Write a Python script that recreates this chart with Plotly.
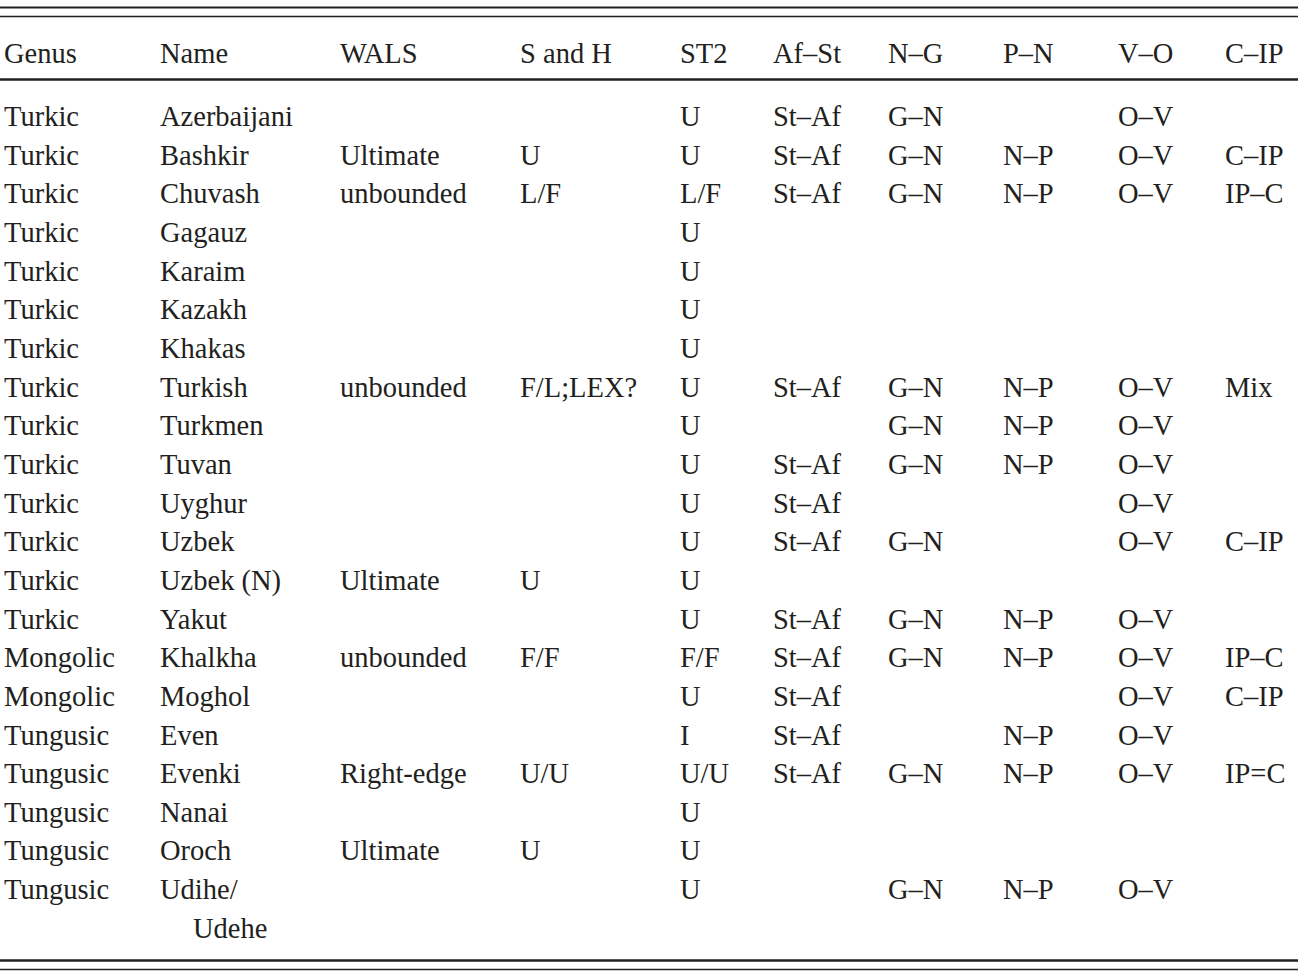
import plotly.graph_objects as go

# ---- data ----
headers = ["Genus", "Name", "WALS", "S and H", "ST2", "Af–St", "N–G", "P–N", "V–O", "C–IP"]

genus = ["Turkic"] * 14 + ["Mongolic"] * 2 + ["Tungusic"] * 5
name = ["Azerbaijani", "Bashkir", "Chuvash", "Gagauz", "Karaim", "Kazakh", "Khakas",
        "Turkish", "Turkmen", "Tuvan", "Uyghur", "Uzbek", "Uzbek (N)", "Yakut",
        "Khalkha", "Moghol", "Even", "Evenki", "Nanai", "Oroch", "Udihe/Udehe"]
wals = ["", "Ultimate", "unbounded", "", "", "", "", "unbounded", "", "", "", "", "Ultimate", "",
        "unbounded", "", "", "Right-edge", "", "Ultimate", ""]
s_and_h = ["", "U", "L/F", "", "", "", "", "F/L;LEX?", "", "", "", "", "U", "",
           "F/F", "", "", "U/U", "", "U", ""]
st2 = ["U", "U", "L/F", "U", "U", "U", "U", "U", "U", "U", "U", "U", "U", "U",
       "F/F", "U", "I", "U/U", "U", "U", "U"]
af_st = ["St–Af", "St–Af", "St–Af", "", "", "", "", "St–Af", "", "St–Af", "St–Af", "St–Af", "", "St–Af",
         "St–Af", "St–Af", "St–Af", "St–Af", "", "", ""]
n_g = ["G–N", "G–N", "G–N", "", "", "", "", "G–N", "G–N", "G–N", "", "G–N", "", "G–N",
       "G–N", "", "", "G–N", "", "", "G–N"]
p_n = ["", "N–P", "N–P", "", "", "", "", "N–P", "N–P", "N–P", "", "", "", "N–P",
       "N–P", "", "N–P", "N–P", "", "", "N–P"]
v_o = ["O–V", "O–V", "O–V", "", "", "", "", "O–V", "O–V", "O–V", "O–V", "O–V", "", "O–V",
       "O–V", "O–V", "O–V", "O–V", "", "", "O–V"]
c_ip = ["", "C–IP", "IP–C", "", "", "", "", "Mix", "", "", "", "C–IP", "", "",
        "IP–C", "C–IP", "", "IP=C", "", "", ""]

columns = [genus, name, wals, s_and_h, st2, af_st, n_g, p_n, v_o, c_ip]

# ---- layout constants ----
W, H = 1305, 976
col_x = [4, 160, 340, 520, 680, 773, 888, 1003, 1118, 1225]
header_y = 55.5
first_row_y = 119
row_step = 38.65
wrap_indent = 33
FONT = dict(family="Liberation Serif, Times New Roman, serif", size=28.5, color="#231f20")

fig = go.Figure()

# header
fig.add_trace(go.Scatter(x=col_x, y=[header_y] * len(headers), text=headers, mode="text",
                         textposition="middle right", textfont=FONT, hoverinfo="skip",
                         showlegend=False))

# body cells
for ci, col in enumerate(columns):
    xs, ys, ts = [], [], []
    for ri, val in enumerate(col):
        if not val:
            continue
        y = first_row_y + ri * row_step
        if ci == 1 and val == "Udihe/Udehe":
            xs += [col_x[ci], col_x[ci] + wrap_indent]
            ys += [y, y + row_step]
            ts += ["Udihe/", "Udehe"]
        else:
            xs.append(col_x[ci])
            ys.append(y)
            ts.append(val)
    fig.add_trace(go.Scatter(x=xs, y=ys, text=ts, mode="text", textposition="middle right",
                             textfont=FONT, hoverinfo="skip", showlegend=False))

# rules
rule_x0, rule_x1 = 0, 1298
for y, w in [(7.5, 2), (16.5, 1.5), (79.5, 2.5), (960.5, 2.5), (969.5, 1.5)]:
    fig.add_trace(go.Scatter(x=[rule_x0, rule_x1], y=[y, y], mode="lines",
                             line=dict(color="#231f20", width=w), hoverinfo="skip",
                             showlegend=False))

fig.update_layout(
    width=W, height=H, margin=dict(l=0, r=0, t=0, b=0),
    paper_bgcolor="white", plot_bgcolor="white",
    xaxis=dict(range=[0, W], visible=False, fixedrange=True),
    yaxis=dict(range=[H, 0], visible=False, fixedrange=True),
)

fig.write_html("out.html", config={"displayModeBar": False},
               post_script="document.body.style.margin='0';document.body.style.overflow='hidden';")
